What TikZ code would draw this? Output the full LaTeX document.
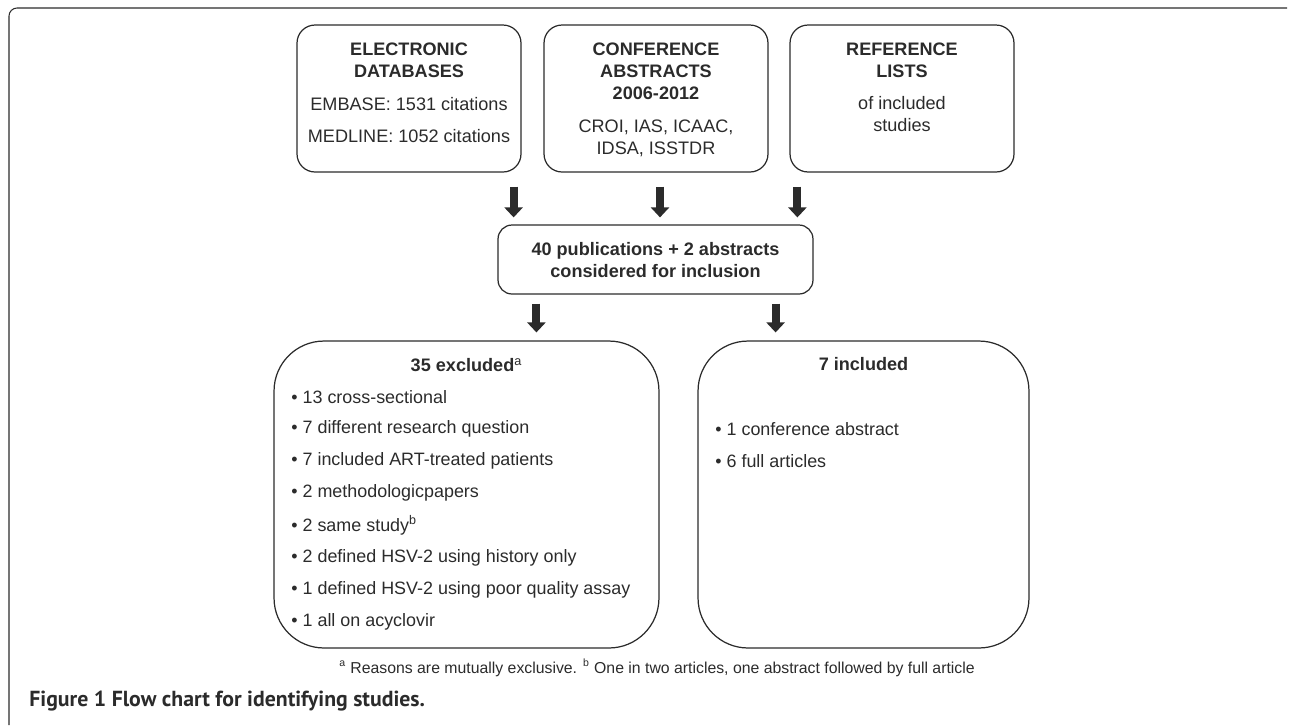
\documentclass[tikz,border=0pt]{standalone}
\usepackage{fontspec}
\setmainfont{Liberation Sans}
\newfontfamily\capfont{PT Sans}
\usetikzlibrary{arrows.meta, positioning, calc}
\definecolor{ink}{HTML}{2B2B2B}

\tikzset{
  srcbox/.style={draw=ink, line width=0.7pt, rounded corners=0.36cm,
    minimum width=4.48cm, minimum height=2.94cm, inner sep=0pt},
  bigbox/.style={draw=ink, line width=0.7pt, rounded corners=1cm,
    minimum height=6.14cm, inner sep=0pt},
  ttl/.style={font=\bfseries\fontsize{10.3}{12.5}\selectfont, text=ink, align=center, inner sep=0pt},
  txt/.style={font=\fontsize{10.3}{12.5}\selectfont, text=ink, align=center, inner sep=0pt},
  bul/.style={font=\fontsize{10.2}{12.5}\selectfont, text=ink, anchor=west, inner sep=0pt},
  fatarrow/.style={draw=ink, line width=0.16cm, -{Triangle[width=0.36cm, length=0.2cm]}}
}

\begin{document}
\begin{tikzpicture}[x=0.02cm, y=-0.02cm]
  \useasboundingbox (0,0) rectangle (1290,725);

  % outer frame
  \draw[ink, line width=0.6pt, rounded corners=0.16cm] (9,725) -- (9,8) -- (1287,8);

  % sources
  \node[srcbox] (db) at (409,98.5) {};
  \node[srcbox] (conf) at (656,98.5) {};
  \node[srcbox] (refl) at (902,98.5) {};

  \node[ttl] (dbT) at (409,60) {ELECTRONIC\\DATABASES};
  \node[txt] (dbA) at (409,104) {EMBASE: 1531 citations};
  \node[txt] (dbB) at (409,136) {MEDLINE: 1052 citations};

  \node[ttl] (confT) at (656,71) {CONFERENCE\\ABSTRACTS\\2006-2012};
  \node[txt] (confA) at (656,138) {CROI, IAS, ICAAC,\\IDSA, ISSTDR};

  \node[ttl] (reflT) at (902,60) {REFERENCE\\LISTS};
  \node[txt] (reflA) at (902,114) {of included\\studies};

  % pooled
  \node[draw=ink, line width=0.7pt, rounded corners=0.28cm, minimum width=6.3cm,
        minimum height=1.38cm, inner sep=0pt] (pool) at (655.5,259.5) {};
  \node[ttl] (poolT) at (655.5,260) {40 publications + 2 abstracts\\considered for inclusion};

  % outcome boxes
  \node[bigbox, minimum width=7.7cm] (excl) at (466.5,494.5) {};
  \node[bigbox, minimum width=6.62cm] (incl) at (863.5,494.5) {};

  \node[ttl] (exclT) at (466.5,365) {35 excluded\textsuperscript{\mdseries a}};
  \foreach \t [count=\i from 0] in {13 cross-sectional, 7 different research question,
      7 included ART-treated patients, 2 methodologicpapers, 2 same study\textsuperscript{b},
      2 defined HSV-2 using history only, 1 defined HSV-2 using poor quality assay,
      1 all on acyclovir}
    \node[bul] (ex\i) at (291,397+32.1*\i) {\textbullet\ \t};

  \node[ttl] (inclT) at (863.5,364) {7 included};
  \node[bul] (in0) at (715,429) {\textbullet\ 1 conference abstract};
  \node[bul] (in1) at (715,461) {\textbullet\ 6 full articles};

  % arrows
  \coordinate (a1) at ($(db.south east)+(-8,14)$);
  \coordinate (a2) at ($(conf.south)+(4,14)$);
  \coordinate (a3) at ($(refl.south west)+(8,14)$);
  \foreach \a in {a1,a2,a3}
    \draw[fatarrow, shorten >=0.14cm] (\a) -- (\a |- pool.north);
  \coordinate (b1) at ($(pool.south west)+(39,9)$);
  \coordinate (b2) at ($(pool.south east)+(-38,9)$);
  \draw[fatarrow, shorten >=0.16cm] (b1) -- (b1 |- excl.north);
  \draw[fatarrow, shorten >=0.16cm] (b2) -- (b2 |- incl.north);

  % footnote and caption
  \node[txt, font=\fontsize{9}{11}\selectfont] (fn) at (657,668)
    {\textsuperscript{a} Reasons are mutually exclusive. \textsuperscript{b} One in two articles, one abstract followed by full article};
  \node[anchor=west, inner sep=0pt, text=ink, font=\capfont\bfseries\fontsize{12.4}{14}\selectfont] (cap) at (29,701)
    {Figure 1 Flow chart for identifying studies.};
\end{tikzpicture}
\end{document}
